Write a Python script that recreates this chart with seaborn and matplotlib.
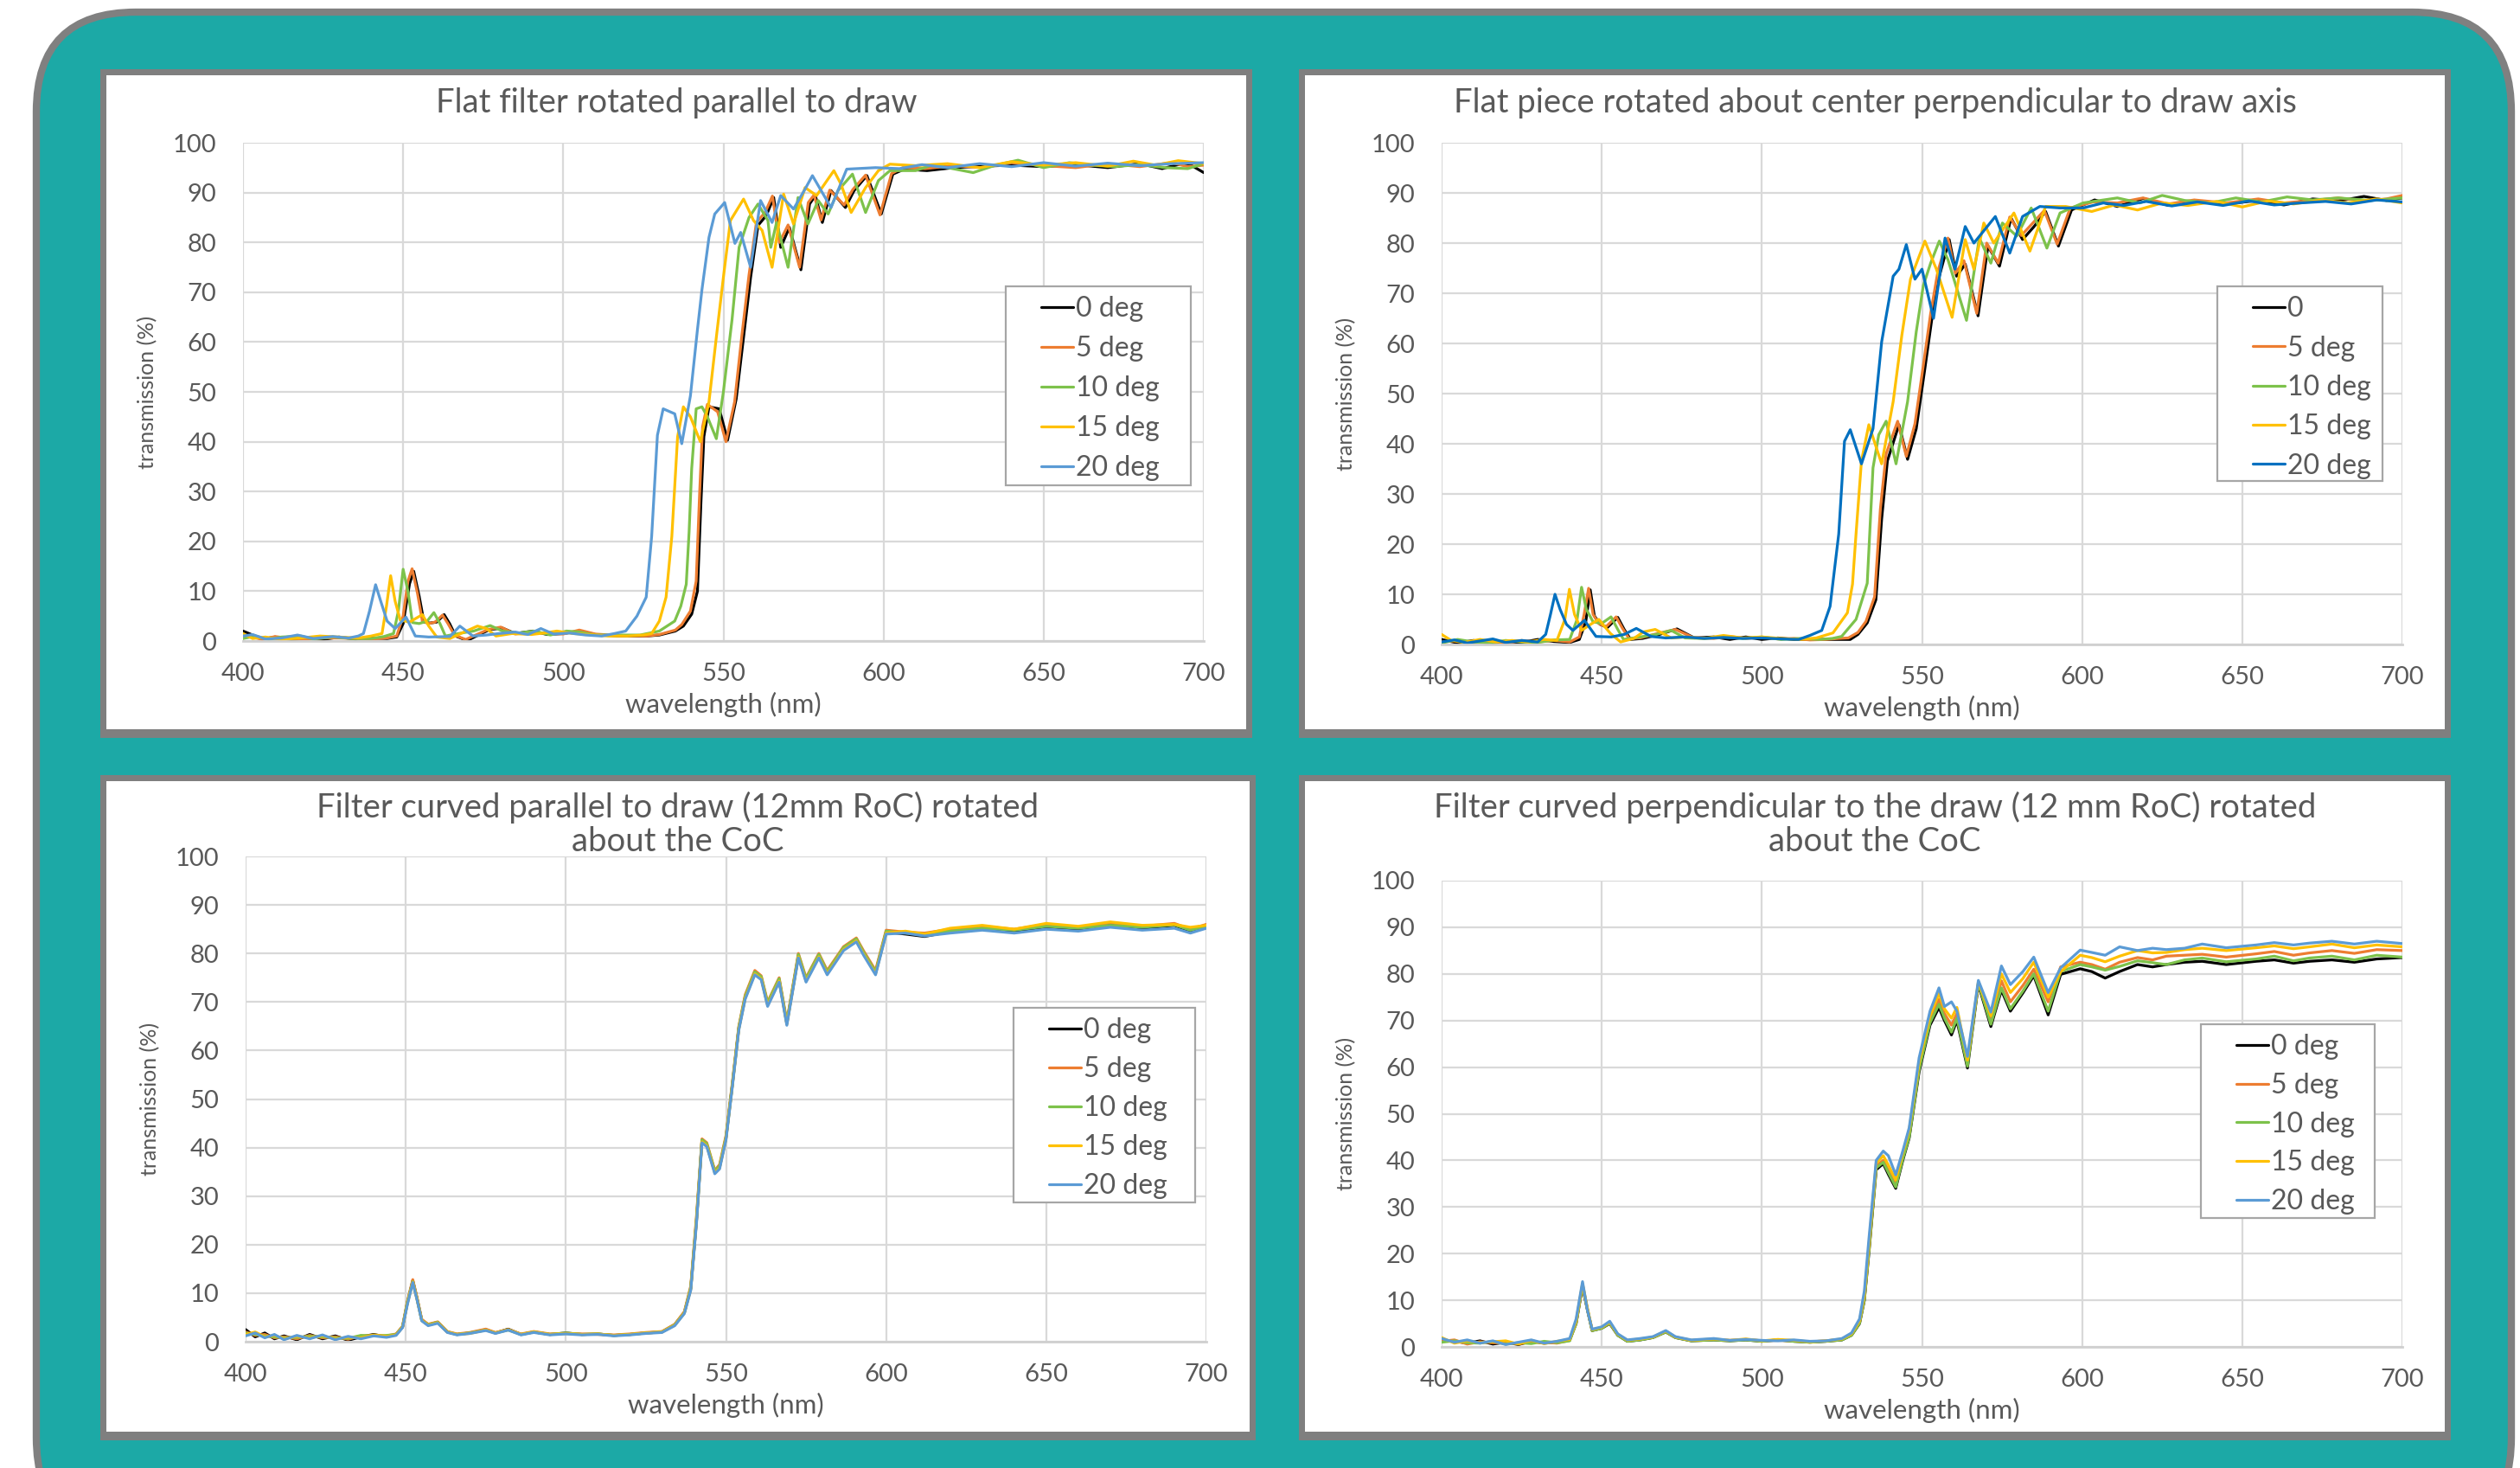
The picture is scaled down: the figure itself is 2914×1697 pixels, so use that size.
import matplotlib
matplotlib.use("Agg")
import numpy as np
import matplotlib.pyplot as plt
import seaborn as sns
from matplotlib.patches import FancyBboxPatch, Rectangle
from matplotlib.transforms import IdentityTransform
from matplotlib.lines import Line2D
from matplotlib.legend_handler import HandlerLine2D

# ---------------- data ----------------
LABELS = ["0 deg", "5 deg", "10 deg", "15 deg", "20 deg"]
LABELS_P2 = ["0", "5 deg", "10 deg", "15 deg", "20 deg"]
COLORS = ["#000000", "#ED7D31", "#7DC24B", "#FFC000", "#5B9BD5"]
COLORS_P2 = ["#000000", "#ED7D31", "#7DC24B", "#FFC000", "#0070C0"]

TITLES = ["Flat filter rotated parallel to draw",
          "Flat piece rotated about center perpendicular to draw axis",
          "Filter curved parallel to draw (12mm RoC) rotated\nabout the CoC",
          "Filter curved perpendicular to the draw (12 mm RoC) rotated\nabout the CoC"]

# panel 1 : flat filter rotated parallel to draw
p1_wl_0 = [400, 403, 406, 410, 415, 420, 425, 430, 435, 440, 445, 448, 450, 452, 453.3, 455, 456.5, 458.3, 460.5, 462.8, 464.5, 466.4, 470, 473.5, 477, 481, 485, 490.5, 495, 500, 505, 510, 517, 526, 530, 535, 537.5, 540.1, 541.9, 543, 543.9, 545.5, 548.7, 551.3, 554, 556.3, 558.5, 560.8, 563.4, 565.7, 567.9, 570.6, 574.2, 576.9, 578.7, 580.9, 583.6, 588.1, 590.8, 594.8, 599.3, 602.9, 606.5, 613.6, 622, 631, 640, 650, 660, 670, 680, 687, 692, 696, 700]
p1_t_0 = [2.0, 1.2, 0.4, 0.8, 0.3, 0.5, 0.3, 0.8, 0.4, 0.6, 0.5, 0.8, 3.5, 11.5, 14.0, 9.0, 3.8, 3.6, 3.8, 5.3, 3.5, 1.0, 0.1, 1.2, 2.3, 2.6, 1.5, 2.0, 1.3, 1.5, 2.0, 1.3, 1.0, 1.0, 1.2, 2.0, 3.0, 5.4, 10, 28, 41, 47, 46.6, 40.3, 48.6, 61, 73, 83.4, 85.4, 89, 79, 83, 74.5, 87.7, 89.4, 84, 90.4, 87, 90.4, 93.4, 85.7, 93.7, 94.7, 94.4, 95.0, 95.3, 95.5, 95.2, 95.6, 95.0, 95.8, 94.8, 95.6, 95.5, 94.0]
p1_wl_5 = [400, 403, 406, 410, 415, 420, 425, 430, 435, 440, 445, 448, 450, 451.5, 452.8, 454.5, 456, 458, 460, 462.3, 464, 466, 469.5, 473, 476.5, 480.5, 485, 490, 495, 500, 505, 510, 517, 526, 530, 535, 537, 539.7, 541.5, 542.6, 543.5, 545, 548.2, 550.8, 553.5, 555.8, 558, 560.3, 563, 565.3, 567.5, 570.2, 573.8, 576.5, 578.3, 580.5, 583.2, 587.7, 590.4, 594.4, 598.9, 602.5, 606, 613, 622, 631, 640, 650, 660, 670, 680, 690, 695, 700]
p1_t_5 = [1.0, 0.8, 0.3, 0.9, 0.5, 0.4, 0.6, 0.6, 0.5, 0.4, 0.6, 1.0, 5.0, 12, 14.5, 9.5, 4.0, 3.5, 3.8, 5.2, 3.5, 1.2, 0.3, 1.3, 2.3, 2.8, 1.4, 1.8, 1.5, 1.4, 2.2, 1.4, 1.1, 1.0, 1.3, 2.2, 3.3, 6, 12, 30, 43, 47.5, 46, 40, 48, 61.5, 73.5, 84, 86, 89.3, 80, 83.5, 75, 88, 89.5, 84.5, 90.5, 87.5, 90.6, 93.5, 85.5, 93.8, 95, 94.8, 95.4, 95.0, 96.0, 95.4, 95.0, 95.8, 95.2, 96.0, 95.2, 95.5]
p1_wl_10 = [400, 404, 408, 412, 418, 422, 428, 434, 440, 444, 447, 448.5, 450, 451.5, 452.9, 455, 457.5, 459.6, 461.5, 463.2, 467.3, 472, 477.2, 481, 486, 491, 496, 501, 505, 510, 517, 524, 530, 534.8, 536.7, 538.4, 539.3, 540.1, 541.5, 543.3, 545, 547.8, 550, 552.7, 554.9, 558, 560.8, 563.9, 564.8, 566.6, 570.2, 573.3, 576.4, 579.6, 582.7, 585.8, 590.3, 594.4, 598.4, 602, 610, 615, 620, 628, 635, 642, 650, 658, 665, 672, 680, 688, 695, 700]
p1_t_10 = [0.5, 1.0, 0.3, 0.8, 1.0, 0.4, 0.8, 0.5, 0.5, 0.9, 1.5, 6, 14.4, 10, 3.7, 3.5, 4.0, 5.7, 3.5, 1.0, 1.5, 2.0, 3.1, 2.0, 1.6, 2.0, 1.2, 2.0, 1.8, 1.2, 1.2, 1.2, 2.0, 4.0, 7, 11.4, 22, 34.6, 46.6, 47, 45, 40.6, 50, 64.5, 79, 85, 87.7, 84.4, 79, 84, 75, 89, 83.7, 88.4, 85.7, 90.4, 93.7, 86, 92.4, 94.4, 94.4, 95.5, 95, 94.0, 95.5, 96.5, 95, 96, 95.5, 95.2, 95.6, 95.0, 94.8, 95.8]
p1_wl_15 = [400, 403, 407, 412, 418, 424, 430, 436, 440, 443.4, 444.8, 446.1, 447.5, 449.1, 452, 456, 458, 460.5, 464.6, 468, 473.2, 476, 479, 484, 490, 494, 498, 503, 508, 514, 520, 525, 527.6, 530, 532.1, 533.9, 535.7, 537.5, 539.7, 542.8, 545.5, 547.8, 550, 552.2, 556.3, 559.4, 562.1, 565.2, 568.8, 571.9, 575.5, 579.1, 584.5, 586.7, 589.9, 594.4, 598.4, 602, 610, 620, 630, 640, 650, 660, 670, 678, 685, 692, 700]
p1_t_15 = [1.5, 0.5, 0.8, 0.3, 0.6, 1.0, 0.8, 0.6, 1.0, 1.5, 7, 13.1, 8, 4.2, 3.8, 5.3, 3.0, 0.8, 0.5, 1.5, 3.0, 2.5, 1.0, 1.5, 1.3, 1.6, 2.0, 1.5, 1.3, 1.0, 1.0, 1.2, 1.5, 4, 8.8, 21, 41, 47, 45, 40, 48, 61, 73, 84.4, 88.7, 84.4, 82.4, 75, 89.7, 83.7, 91, 89.4, 94.4, 91.7, 86, 91, 94.4, 95.7, 95.4, 95.8, 95.0, 96.2, 95.5, 96.0, 95.3, 96.3, 95.5, 96.4, 95.8]
p1_wl_20 = [400, 403, 407, 412, 417, 422, 428, 433, 436, 437.6, 439.5, 441.4, 443, 445, 447.5, 450.9, 453.8, 458, 464.6, 467.7, 471.8, 476, 479.9, 485, 489, 493, 497, 502, 507, 512, 516, 519.5, 523, 525.9, 527.6, 529.4, 531.2, 534.8, 537, 539.7, 541.9, 543.3, 545.5, 547.3, 550.4, 553.6, 555.4, 558.5, 561.6, 565.2, 567.9, 571.9, 575.5, 577.8, 583.6, 588.5, 597.5, 605, 612, 620, 630, 640, 650, 660, 670, 680, 690, 700]
p1_t_20 = [1.0, 1.3, 0.4, 0.6, 1.2, 0.5, 0.9, 0.6, 1.0, 1.5, 6, 11.3, 8, 4, 2.5, 4.8, 1.0, 0.8, 0.9, 3.0, 1.0, 1.2, 1.5, 1.8, 1.3, 2.5, 1.4, 1.6, 1.2, 1.0, 1.5, 2.0, 5, 8.8, 21, 41.3, 46.6, 45.6, 39.6, 49.2, 62.5, 70.5, 81, 85.7, 88, 79.8, 82, 75, 88.4, 84, 89.4, 86.7, 90.7, 93.4, 87, 94.7, 95, 94.8, 95.6, 95.0, 95.8, 95.2, 96.0, 95.3, 95.9, 95.4, 95.8, 96.0]

# panel 2 : flat piece rotated about center perpendicular to draw axis
p2_wl_0 = [400, 405, 410, 415, 420, 425, 430, 435, 440, 443, 445, 446.4, 447.7, 449.5, 451.8, 455, 457, 459, 462.7, 468, 473.5, 478.9, 485, 490, 495, 500, 505, 510, 515, 520, 524, 527.6, 530, 532.9, 535.6, 537.4, 539.2, 542.8, 545.5, 548.2, 550.9, 553.1, 555.4, 558.5, 560.8, 563.5, 567.5, 570.6, 574.2, 577.8, 581.4, 585, 588.6, 592.6, 596.7, 603.9, 611, 619.1, 627, 635, 645, 655, 663, 672, 680, 688, 695, 700]
p2_t_0 = [1.0, 0.3, 0.8, 0.2, 0.6, 0.4, 1.0, 0.6, 0.4, 1.0, 4.5, 10.9, 5.7, 4.0, 3.4, 5.4, 3.0, 1.0, 1.2, 2.0, 3.1, 1.3, 1.5, 1.0, 1.5, 1.0, 1.3, 1.0, 1.0, 1.0, 1.0, 1.0, 2, 4.3, 8.9, 25, 36.6, 43.8, 36.9, 43, 55, 65, 73.4, 80.7, 73.4, 75.8, 65.5, 79.4, 75.4, 85, 80.7, 83.3, 86.3, 79.4, 86.6, 88.6, 87.3, 88.9, 87.5, 88.3, 87.8, 88.5, 87.6, 88.8, 88.4, 89.3, 88.5, 89.0]
p2_wl_5 = [400, 405, 410, 415, 420, 425, 430, 435, 440, 443, 444.5, 445.9, 447.3, 449, 451.3, 454.5, 456.5, 458.5, 462, 467.5, 473, 478.5, 485, 490, 495, 500, 505, 510, 515, 520, 524, 527, 530, 532.5, 535.2, 537, 538.8, 542.4, 545.1, 547.8, 550.5, 552.7, 555, 558.1, 560.4, 563.1, 567.1, 570.2, 573.8, 577.4, 581, 584.6, 588.2, 592.2, 596.3, 603.5, 611, 619, 627, 635, 645, 655, 663, 672, 680, 688, 695, 700]
p2_t_5 = [0.5, 0.8, 0.4, 0.7, 0.3, 0.8, 0.5, 0.8, 0.5, 1.5, 6, 11.2, 6, 4.2, 3.5, 5.5, 3.2, 1.2, 1.3, 2.2, 3.0, 1.4, 1.2, 1.6, 1.2, 1.4, 1.1, 1.2, 0.9, 1.0, 1.2, 1.3, 2.4, 4.6, 9.5, 27, 38, 44.5, 37.5, 44, 56, 66, 74.5, 81, 74, 76.5, 66, 80, 76, 85.2, 81.5, 84, 86.5, 79.8, 87, 88.2, 88, 89.0, 87.8, 88.6, 88.0, 88.8, 88.0, 88.5, 89.0, 88.4, 88.8, 89.5]
p2_wl_10 = [400, 405, 410, 415, 420, 425, 430, 435, 440, 442.3, 443.7, 445.2, 447.3, 450, 452.9, 455, 456.8, 462, 467, 471.7, 476, 482, 488, 494, 500, 506, 512, 518, 522, 524.9, 529.4, 532.9, 534.7, 536.5, 538.8, 541.9, 545.5, 548.2, 550.4, 552.7, 555.4, 558.1, 563.9, 567.9, 571.5, 575.1, 579.6, 584.1, 589, 593.1, 600.3, 611, 618, 625, 632, 640, 648, 656, 664, 672, 680, 690, 700]
p2_t_10 = [0.3, 1.0, 0.5, 0.3, 0.8, 0.5, 0.4, 0.9, 1.0, 5, 11.4, 7, 4.5, 4.2, 5.5, 3.0, 1.0, 1.5, 2.0, 2.8, 1.3, 1.2, 1.5, 1.2, 1.5, 1.0, 1.2, 1.0, 1.2, 1.6, 5.0, 12.2, 35.2, 41.8, 44.5, 36, 48.4, 62.3, 71.5, 76, 80.4, 76.7, 64.6, 81, 76, 84, 81.4, 87, 79, 86, 88, 89, 88.0, 89.5, 88.5, 88.0, 89.0, 88.2, 89.2, 88.6, 89.0, 88.5, 89.0]
p2_wl_15 = [400, 403, 407, 412, 417, 422, 427, 432, 436, 438.5, 439.9, 441.5, 443.7, 446.5, 449.1, 451, 452.7, 455.9, 460, 463, 466.7, 471.7, 476, 482, 488, 494, 500, 506, 512, 517, 522.2, 526.7, 528.3, 529.4, 531.1, 533.4, 537.4, 541, 543.7, 546.4, 550.9, 554.5, 559.4, 563.5, 566.2, 569.3, 572.4, 578.7, 583.7, 588.6, 594.9, 603, 610.1, 617.3, 625, 633, 642, 650, 658, 666, 675, 683, 692, 700]
p2_t_15 = [2.0, 0.8, 0.4, 1.0, 0.5, 0.8, 0.5, 1.0, 0.8, 5, 11, 6, 2.8, 4.0, 5.0, 3.5, 2.2, 0.5, 1.2, 2.5, 3.0, 1.3, 1.5, 1.2, 1.8, 1.3, 1.5, 1.2, 1.0, 1.3, 2.3, 6.3, 12, 22, 36.6, 43.8, 36, 48.4, 61.6, 72.8, 80.4, 74.8, 65.2, 80.7, 74.8, 84, 80, 86, 78.4, 87.3, 87.3, 86.3, 87.6, 86.6, 88.0, 87.5, 88.3, 87.2, 88.4, 87.8, 88.6, 88.0, 88.8, 88.0]
p2_wl_20 = [400, 404, 408, 412, 416, 420, 425, 430, 432.5, 434, 435.4, 437, 439, 441, 444.6, 448.2, 453, 457, 460.8, 465.4, 470, 476, 482, 488, 494, 500, 506, 511.5, 515, 518.7, 521.3, 524, 525.8, 527.6, 531.1, 534.7, 537.4, 541, 542.8, 545.1, 547.8, 550, 553.6, 557.2, 560.3, 563.5, 566.2, 572.9, 577.4, 581.4, 586.8, 593.1, 600.3, 606.6, 613, 620, 628, 636, 644, 652, 660, 668, 676, 684, 692, 700]
p2_t_20 = [0.5, 0.9, 0.3, 0.7, 1.1, 0.4, 0.8, 0.5, 2, 6, 10, 7, 4, 2.8, 4.8, 1.6, 1.5, 2.0, 3.2, 1.6, 1.3, 1.5, 1.2, 1.4, 1.2, 1.3, 1.1, 1.0, 1.8, 2.8, 7.6, 22, 40.5, 42.8, 36, 43, 60.3, 73.4, 74.8, 79.7, 72.8, 74.8, 65, 81, 74.8, 83.3, 80, 85.3, 78, 85.3, 87.3, 87, 87, 88, 87.5, 88.3, 87.4, 88.2, 87.5, 88.4, 87.6, 88.0, 88.3, 87.8, 88.6, 88.2]

# panel 3 : filter curved parallel to draw, rotated about the CoC
p3_wl = [400, 403, 406, 409, 412, 416, 420, 424, 428, 432, 436, 440, 444, 447, 449, 450.5, 452.2, 453.5, 455, 457, 460, 463, 466, 470, 475, 478, 482, 486, 490, 495, 500, 505, 510, 515, 520, 525, 530, 534, 537, 539, 540.8, 542.5, 544, 546.5, 548, 550, 552, 554, 556, 559, 561, 563, 566.6, 569, 572.6, 575, 579, 581.6, 586.7, 590.7, 593, 596.7, 600, 606, 612, 620, 630, 640, 650, 660, 670, 680, 690, 695, 700]
p3_t_0 = [2.5, 1.0, 1.8, 0.6, 1.2, 0.4, 1.5, 0.6, 1.2, 0.3, 1.0, 1.5, 1.0, 1.5, 3, 8, 12.6, 9, 4.5, 3.5, 4.0, 2.0, 1.5, 1.8, 2.5, 1.8, 2.6, 1.5, 2.0, 1.5, 1.8, 1.5, 1.6, 1.3, 1.5, 1.8, 2.0, 3.5, 6, 11, 25, 41.4, 40.5, 35, 36, 42, 53, 64.6, 71, 76, 75, 69.5, 74.5, 65.6, 79.5, 74.5, 79.5, 76, 81, 82.8, 80, 76, 84.4, 84.0, 83.5, 84.5, 85.0, 84.5, 85.5, 85.0, 86.0, 85.2, 85.8, 84.6, 85.5]
p3_t_5 = [2.0, 1.3, 1.5, 0.8, 1.0, 0.6, 1.3, 0.8, 1.0, 0.5, 1.2, 1.3, 1.2, 1.6, 3.2, 8.3, 12.8, 9.2, 4.6, 3.6, 4.1, 2.1, 1.6, 1.9, 2.6, 1.9, 2.5, 1.6, 2.1, 1.6, 1.7, 1.6, 1.5, 1.4, 1.6, 1.9, 2.1, 3.6, 6.2, 11.5, 26, 41.8, 41, 35.3, 36.5, 42.5, 53.5, 65, 71.5, 76.5, 75.4, 70, 75, 66, 80, 75, 80, 76.5, 81.4, 83.2, 80.5, 76.5, 84.8, 84.4, 84.2, 85.0, 85.6, 85.0, 86.0, 85.4, 86.3, 85.6, 86.2, 85.0, 86.0]
p3_t_10 = [1.8, 1.5, 1.2, 1.0, 0.8, 0.9, 1.1, 1.0, 0.8, 0.7, 1.3, 1.2, 1.3, 1.5, 3.1, 8.1, 12.4, 8.9, 4.4, 3.5, 4.0, 2.0, 1.5, 1.8, 2.4, 1.8, 2.4, 1.5, 2.0, 1.5, 1.8, 1.5, 1.6, 1.3, 1.5, 1.8, 2.0, 3.5, 6, 11.2, 25.5, 41.6, 40.8, 35.2, 36.2, 42.2, 53.2, 64.8, 71.2, 76.2, 75.2, 69.8, 74.8, 65.8, 79.8, 74.8, 79.8, 76.2, 81.2, 83, 80.2, 76.2, 84.6, 84.2, 84.0, 84.6, 85.2, 84.8, 85.6, 85.2, 85.8, 85.4, 85.9, 84.8, 85.6]
p3_t_15 = [1.5, 2.0, 1.0, 1.3, 0.6, 1.1, 0.8, 1.2, 0.6, 0.9, 0.8, 1.4, 1.1, 1.4, 3.0, 7.8, 12.3, 8.8, 4.4, 3.4, 3.9, 2.0, 1.5, 1.7, 2.4, 1.8, 2.5, 1.5, 2.0, 1.5, 1.7, 1.5, 1.6, 1.3, 1.5, 1.8, 2.0, 3.4, 5.9, 10.8, 25, 41.2, 40.4, 34.8, 35.8, 41.8, 52.8, 64.4, 70.8, 75.8, 74.8, 69.3, 74.3, 65.4, 79.3, 74.3, 79.3, 75.8, 80.8, 82.6, 79.8, 75.8, 84.2, 84.6, 84.0, 85.2, 85.8, 85.0, 86.2, 85.6, 86.5, 85.8, 86.0, 85.4, 85.8]
p3_t_20 = [1.2, 1.8, 0.8, 1.5, 0.4, 1.3, 0.6, 1.4, 0.4, 1.1, 0.6, 1.2, 0.9, 1.3, 2.9, 7.6, 12.2, 8.7, 4.3, 3.3, 3.8, 1.9, 1.4, 1.7, 2.3, 1.7, 2.4, 1.4, 1.9, 1.4, 1.6, 1.4, 1.5, 1.2, 1.4, 1.7, 1.9, 3.3, 5.8, 10.6, 24.5, 41, 40.2, 34.6, 35.6, 41.6, 52.6, 64.2, 70.6, 75.6, 74.6, 69.1, 74.1, 65.2, 79.1, 74.1, 79.1, 75.6, 80.6, 82.4, 79.6, 75.6, 84, 84.2, 83.6, 84.2, 84.8, 84.2, 85.0, 84.6, 85.4, 84.8, 85.2, 84.2, 85.2]

# panel 4 : filter curved perpendicular to the draw, rotated about the CoC
p4_wl = [400, 404, 408, 412, 416, 420, 424, 428, 432, 436, 440, 442, 444, 445.5, 447, 450, 452.5, 455, 458, 462, 466, 470, 473, 478, 485, 490, 495, 500, 505, 510, 515, 520, 525, 528, 530.5, 532, 533.4, 535.7, 537.9, 539.5, 541.8, 544, 546, 549.1, 552.5, 555.3, 557, 559.2, 560.9, 564.2, 567.6, 571.5, 574.8, 577.6, 581.5, 584.9, 589.4, 593.3, 599.4, 603, 607.2, 611.7, 617.3, 622, 626.3, 632, 637.5, 645, 654.3, 660, 666, 671, 678, 685, 692, 700]
p4_t_0 = [1.5, 1.2, 0.8, 1.3, 0.6, 1.0, 0.5, 1.2, 0.8, 1.0, 1.5, 5, 13.0, 8, 3.5, 4.0, 5.0, 2.5, 1.2, 1.5, 2.0, 3.2, 2.0, 1.3, 1.5, 1.3, 1.5, 1.2, 1.5, 1.2, 1.0, 1.2, 1.5, 2.5, 5, 10, 20, 38, 39.3, 37, 34, 40, 44.8, 59, 69, 72.8, 70, 66.9, 70, 59.8, 77.7, 68.7, 76.5, 72, 75.9, 79.6, 71.2, 79.9, 81.1, 80.5, 79.1, 80.5, 82, 81.5, 82, 82.5, 82.7, 82.0, 82.7, 83.0, 82.3, 82.7, 83.0, 82.5, 83.2, 83.5]
p4_t_5 = [1.2, 1.5, 0.6, 1.1, 0.9, 0.8, 0.7, 1.0, 1.0, 0.8, 1.4, 5.2, 13.3, 8.2, 3.6, 4.1, 5.2, 2.6, 1.3, 1.6, 2.1, 3.3, 2.1, 1.4, 1.6, 1.4, 1.6, 1.3, 1.4, 1.3, 1.1, 1.3, 1.6, 2.6, 5.2, 10.5, 20.8, 38.8, 40, 37.8, 34.8, 40.8, 45.5, 60, 70, 74.5, 71.5, 69, 71.5, 61, 78, 70, 78.5, 74, 77.5, 81, 74, 81.5, 82.5, 82, 81, 82.5, 83.5, 83, 83.8, 84, 84.2, 83.6, 84.3, 84.8, 84.0, 84.5, 85.0, 84.4, 85.2, 85.0]
p4_t_10 = [1.0, 1.3, 0.9, 0.8, 1.2, 0.6, 0.9, 0.7, 1.2, 0.9, 1.3, 5.1, 13.2, 8.1, 3.5, 4.0, 5.1, 2.5, 1.2, 1.5, 2.0, 3.2, 2.0, 1.3, 1.5, 1.3, 1.5, 1.2, 1.5, 1.2, 1.0, 1.2, 1.5, 2.5, 5.1, 10.2, 20.4, 38.4, 39.6, 37.4, 34.3, 40.3, 45, 59.5, 69.5, 73.5, 70.5, 67.5, 70.5, 60.2, 78, 69.2, 77, 72.5, 76.3, 80, 72, 80.5, 82, 81.5, 80.8, 81.6, 82.8, 82.4, 82.0, 83.0, 83.4, 82.6, 83.2, 83.8, 82.8, 83.4, 83.8, 83.0, 84.0, 83.6]
p4_t_15 = [2.0, 0.8, 1.3, 0.9, 1.1, 1.3, 0.6, 1.4, 0.7, 1.2, 1.6, 5.5, 13.6, 8.4, 3.7, 4.2, 5.3, 2.7, 1.4, 1.7, 2.1, 3.4, 2.1, 1.4, 1.7, 1.4, 1.7, 1.3, 1.6, 1.4, 1.1, 1.3, 1.7, 2.8, 5.6, 11, 21.6, 39.4, 41, 39, 35.8, 41.5, 46.5, 61, 71, 75.8, 72.5, 70.5, 72.8, 61.5, 78.3, 71, 80, 76, 79, 82.5, 75, 80.5, 84, 83.5, 82.6, 83.8, 85, 84.5, 84.6, 85.2, 85.5, 85.0, 85.6, 86.0, 85.4, 85.8, 86.4, 85.6, 86.2, 85.8]
p4_t_20 = [1.8, 1.0, 1.5, 0.8, 1.3, 0.5, 1.0, 1.5, 0.8, 1.2, 1.8, 6, 14.0, 8, 3.8, 4.3, 5.5, 2.8, 1.5, 1.8, 2.2, 3.5, 2.2, 1.5, 1.8, 1.4, 1.6, 1.4, 1.3, 1.5, 1.2, 1.3, 1.8, 3, 6, 12, 23, 40, 42, 41, 36.9, 42, 47, 62, 72, 77, 73, 74, 72, 62.3, 78.6, 71.8, 81.7, 77.7, 80.5, 83.6, 76, 81.3, 85.1, 84.6, 84, 85.8, 85, 85.5, 85.2, 85.5, 86.4, 85.6, 86.2, 86.7, 86.2, 86.6, 87.0, 86.4, 87.0, 86.5]


# legend line drawn only in the right part of the handle box (Excel-like indent)
class IndentedLine(HandlerLine2D):
    def get_xdata(self, legend, xdescent, ydescent, width, height, fontsize):
        x = np.array([-xdescent + 0.45 * width, -xdescent + width])
        return x, x


# ---------------- figure ----------------
W, H, DPI = 2914, 1697, 100
sns.set_theme(style="white")
plt.rcParams['font.family'] = ['Lato', 'DejaVu Sans']
TXT = "#595959"

fig = plt.figure(figsize=(W / DPI, H / DPI), dpi=DPI)
fig.patch.set_facecolor("white")

# teal rounded background (pixel coords, origin bottom-left)
bg = FancyBboxPatch((42, -80), 2862, H - 14 + 80, boxstyle="round,pad=0,rounding_size=115",
                    transform=IdentityTransform(), facecolor="#1CA9A6", edgecolor="#808080",
                    linewidth=6, zorder=-5)
fig.add_artist(bg)

# white panels with grey frame: (left, top, right, bottom) in image pixels
panels = [(123, 87, 1441, 843), (1509, 87, 2827, 843),
          (123, 903, 1445, 1655), (1509, 903, 2827, 1655)]
for (l, t, r, b) in panels:
    fig.add_artist(Rectangle((l - 7, H - b - 10), r - l + 14, b - t + 17, transform=IdentityTransform(),
                             facecolor="#7F7F7F", edgecolor="none", zorder=-4))
    fig.add_artist(Rectangle((l, H - b), r - l, b - t, transform=IdentityTransform(),
                             facecolor="white", edgecolor="none", zorder=-3))

# plot areas: (left, top, right, bottom) in image pixels
plot_areas = [(281, 165, 1392, 741), (1667, 165, 2778, 745),
              (284, 990, 1395, 1551), (1667, 1018, 2778, 1557)]
# legend boxes: (left, top, right, bottom) in image pixels
legend_boxes = [(1163, 331, 1377, 561), (2564, 331, 2755, 556),
                (1172, 1165, 1382, 1390), (2545, 1184, 2746, 1408)]
legend_spacing = [0.5, 0.48, 0.47, 0.46]
title_y = [119, 119, 953, 953]

panel_series = [
    [(p1_wl_0, p1_t_0), (p1_wl_5, p1_t_5), (p1_wl_10, p1_t_10), (p1_wl_15, p1_t_15), (p1_wl_20, p1_t_20)],
    [(p2_wl_0, p2_t_0), (p2_wl_5, p2_t_5), (p2_wl_10, p2_t_10), (p2_wl_15, p2_t_15), (p2_wl_20, p2_t_20)],
    [(p3_wl, p3_t_0), (p3_wl, p3_t_5), (p3_wl, p3_t_10), (p3_wl, p3_t_15), (p3_wl, p3_t_20)],
    [(p4_wl, p4_t_0), (p4_wl, p4_t_5), (p4_wl, p4_t_10), (p4_wl, p4_t_15), (p4_wl, p4_t_20)],
]

for i, (l, t, r, b) in enumerate(plot_areas):
    ax = fig.add_axes([l / W, 1 - b / H, (r - l) / W, (b - t) / H])
    ax.set_facecolor("white")
    cols = COLORS_P2 if i == 1 else COLORS
    labs = LABELS_P2 if i == 1 else LABELS
    for (wl, tr), c, lab in zip(panel_series[i], cols, labs):
        sns.lineplot(x=wl, y=tr, ax=ax, color=c, linewidth=2.3, label=lab, sort=False, estimator=None)

    ax.set_xlim(400, 700)
    ax.set_ylim(0, 100)
    ax.set_xticks(range(400, 701, 50))
    ax.set_yticks(range(0, 101, 10))
    ax.grid(True, color="#D9D9D9", linewidth=1.6)
    ax.set_axisbelow(True)
    for s in ["top", "right", "left"]:
        ax.spines[s].set_visible(False)
    ax.spines["bottom"].set_color("#D0D0D0")
    ax.spines["bottom"].set_linewidth(2)
    ax.tick_params(axis="both", length=0, labelsize=21, colors=TXT)
    ax.tick_params(axis="x", pad=18)
    ax.tick_params(axis="y", pad=22)

    ax.set_xlabel("wavelength (nm)", fontsize=22.5, color=TXT)
    ax.set_ylabel("transmission (%)", fontsize=18, color=TXT)
    ax.xaxis.set_label_coords(0.5, -73 / (b - t))
    ax.xaxis.label.set_va("center")
    ax.yaxis.set_label_coords(-110 / (r - l), 0.5)
    ax.yaxis.label.set_va("center")

    # legend frame drawn as a box of fixed size, the legend entries sit inside it
    bl, bt, br, bb = legend_boxes[i]
    ax.add_patch(Rectangle(((bl - l) / (r - l), (b - bb) / (b - t)), (br - bl) / (r - l), (bb - bt) / (b - t),
                           transform=ax.transAxes, facecolor="white", edgecolor="#A6A6A6",
                           linewidth=1.6, zorder=4.5))
    handles = [Line2D([], [], color=c, linewidth=2.3) for c in cols]
    leg = ax.legend(handles, labs, loc="upper left",
                    bbox_to_anchor=((bl - l) / (r - l), (b - bt) / (b - t)),
                    frameon=False, fontsize=23, handlelength=2.1,
                    handletextpad=0.1, labelspacing=legend_spacing[i], borderpad=0.35,
                    borderaxespad=0, handler_map={Line2D: IndentedLine()})
    leg.set_zorder(5)
    for txt in leg.get_texts():
        txt.set_color(TXT)

    pl, pt, pr, pb = panels[i]
    fig.text((pl + pr) / 2 / W, 1 - title_y[i] / H, TITLES[i], ha="center", va="center",
             fontsize=27.5, color=TXT, linespacing=1.12)

fig.savefig("out.png", dpi=DPI)
